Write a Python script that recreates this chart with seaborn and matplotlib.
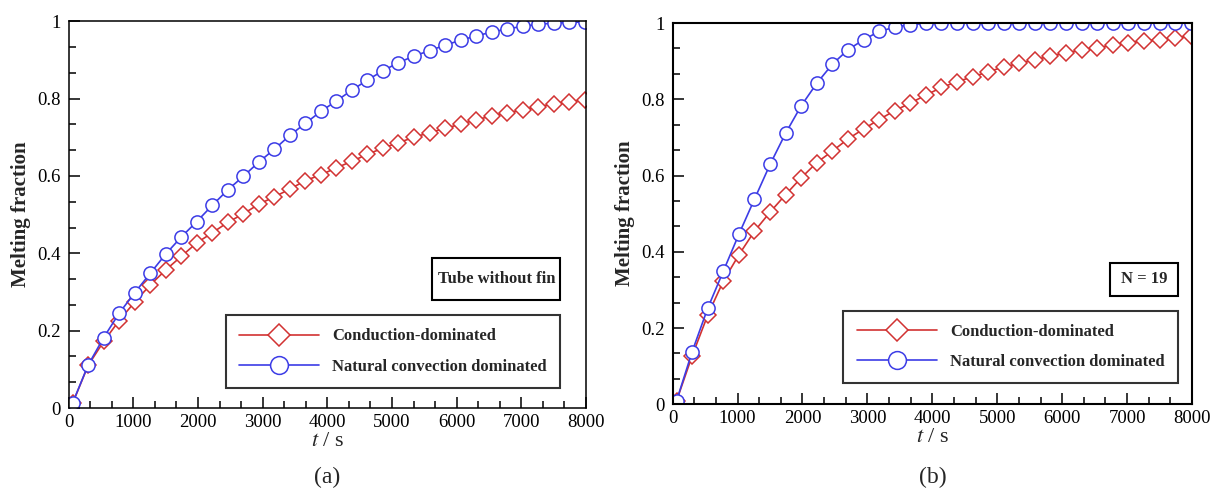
import numpy as np
import pandas as pd
import seaborn as sns
import matplotlib
matplotlib.use("Agg")
import matplotlib.pyplot as plt
from matplotlib.ticker import MultipleLocator, FuncFormatter
from matplotlib.patches import Rectangle

# ---------------- data ----------------
time_s = [60 + 240 * k for k in range(34)]

# (a) Tube without fin
a_conduction = [0.012, 0.110, 0.172, 0.226, 0.274, 0.318, 0.357, 0.392, 0.427, 0.453,
                0.480, 0.502, 0.527, 0.546, 0.566, 0.588, 0.603, 0.621, 0.638, 0.656,
                0.672, 0.686, 0.700, 0.712, 0.723, 0.734, 0.745, 0.755, 0.763, 0.771,
                0.779, 0.786, 0.791, 0.797]
a_convection = [0.013, 0.111, 0.182, 0.245, 0.298, 0.348, 0.398, 0.442, 0.482, 0.524,
                0.564, 0.599, 0.636, 0.669, 0.705, 0.736, 0.767, 0.794, 0.822, 0.848,
                0.872, 0.893, 0.910, 0.924, 0.938, 0.951, 0.962, 0.972, 0.980, 0.987,
                0.992, 0.995, 0.997, 0.998]

# (b) N = 19
b_conduction = [0.009, 0.127, 0.234, 0.323, 0.392, 0.454, 0.504, 0.550, 0.594, 0.634,
                0.664, 0.696, 0.722, 0.747, 0.770, 0.790, 0.811, 0.831, 0.846, 0.859,
                0.872, 0.885, 0.894, 0.904, 0.913, 0.922, 0.929, 0.935, 0.942, 0.948,
                0.953, 0.956, 0.962, 0.965]
b_convection = [0.009, 0.138, 0.252, 0.349, 0.446, 0.538, 0.629, 0.711, 0.783, 0.842,
                0.892, 0.930, 0.956, 0.978, 0.989, 0.996, 0.999, 1.000, 1.000, 1.000,
                1.000, 1.000, 1.000, 1.000, 1.000, 1.000, 1.000, 1.000, 1.000, 1.000,
                1.000, 1.000, 1.000, 1.000]

series_names = ["Conduction-dominated", "Natural convection dominated"]
panel_notes = ["Tube without fin", "N = 19"]
panel_tags = ["(a)", "(b)"]
x_ticks = [0, 1000, 2000, 3000, 4000, 5000, 6000, 7000, 8000]
y_ticks = [0, 0.2, 0.4, 0.6, 0.8, 1.0]

# ---------------- style ----------------
sns.set_style("ticks")
plt.rcParams["font.family"] = ["Liberation Serif", "DejaVu Serif"]
plt.rcParams["mathtext.fontset"] = "stix"

RED = "#d23232"
BLUE = "#3c3ce6"

fig = plt.figure(figsize=(12.12, 5.01), dpi=100)
ax_a = fig.add_axes([0.0567, 0.1856, 0.4268, 0.772])
ax_b = fig.add_axes([0.555, 0.193, 0.4285, 0.761])

panels = [
    (ax_a, a_conduction, a_convection),
    (ax_b, b_conduction, b_convection),
]
legend_anchor = [(0.95, 0.052), (0.973, 0.055)]
note_boxes = [(0.703, 0.279, 0.247, 0.109), (0.843, 0.284, 0.130, 0.087)]

for i, (ax, cond, conv) in enumerate(panels):
    df = pd.DataFrame({
        "t": time_s * 2,
        "f": cond + conv,
        "series": [series_names[0]] * len(cond) + [series_names[1]] * len(conv),
    })
    sns.lineplot(data=df[df.series == series_names[0]], x="t", y="f", ax=ax,
                 color=RED, marker="D", markersize=8, markerfacecolor="white",
                 markeredgecolor=RED, markeredgewidth=1.1, linewidth=1.2,
                 label=series_names[0], legend=False)
    sns.lineplot(data=df[df.series == series_names[1]], x="t", y="f", ax=ax,
                 color=BLUE, marker="o", markersize=9.5, markerfacecolor="white",
                 markeredgecolor=BLUE, markeredgewidth=1.1, linewidth=1.2,
                 label=series_names[1], legend=False)

    ax.set_xlim(0, 8000)
    ax.set_ylim(0, 1)
    ax.set_xticks(x_ticks)
    ax.set_yticks(y_ticks)
    ax.xaxis.set_minor_locator(MultipleLocator(1000 / 3))
    ax.yaxis.set_minor_locator(MultipleLocator(0.2 / 3))
    ax.yaxis.set_major_formatter(FuncFormatter(lambda v, p: "%g" % v))
    ax.tick_params(which="both", direction="in", top=False, right=False,
                   labelsize=13.5, colors="black")
    ax.tick_params(axis="x", pad=4)
    ax.tick_params(axis="y", pad=6)
    ax.tick_params(which="major", length=8, width=1.1)
    ax.tick_params(which="minor", length=5, width=1.1)
    for s in ax.spines.values():
        s.set_visible(True)
        s.set_linewidth(1.5 if i == 1 else 1.1)
        s.set_color("black")

    ax.set_xlabel(r"$t$ / s", fontsize=16, labelpad=1)
    ax.set_ylabel("Melting fraction", fontsize=15, fontweight="bold", labelpad=4)

    leg = ax.legend(loc="lower right", bbox_to_anchor=legend_anchor[i],
                    prop={"weight": "bold", "size": 12}, handlelength=4.8,
                    frameon=True, fancybox=False, edgecolor="black",
                    borderpad=0.8, labelspacing=0.85, handletextpad=0.8,
                    markerscale=1.35, borderaxespad=0)
    leg.get_frame().set_linewidth(1.5)

    bx, by, bw, bh = note_boxes[i]
    ax.add_patch(Rectangle((bx, by), bw, bh, transform=ax.transAxes,
                           fc="white", ec="black", lw=1.5, zorder=5))
    ax.text(bx + bw / 2, by + bh / 2, panel_notes[i], transform=ax.transAxes,
            ha="center", va="center", fontsize=12, fontweight="bold", zorder=6)

    pos = ax.get_position()
    fig.text(pos.x0 + pos.width / 2, 0.025, panel_tags[i], ha="center",
             va="bottom", fontsize=17)

fig.savefig("out.png", dpi=100, facecolor="white")
